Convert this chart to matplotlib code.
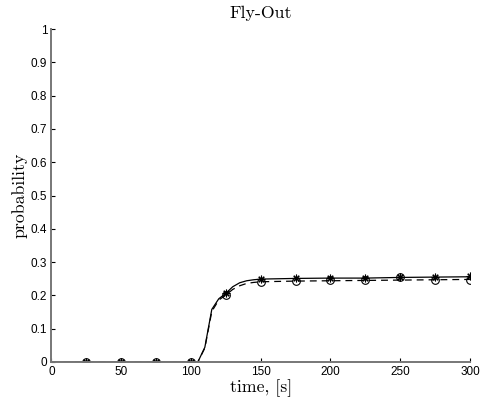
import matplotlib
matplotlib.use("Agg")
import matplotlib.pyplot as plt

# simulation output, sampled every 5 s
t = [0, 25, 50, 75, 100, 105, 110, 115, 120, 125, 130, 135, 140, 145, 150,
     175, 200, 225, 250, 275, 300]
p_sim = [0, 0, 0, 0, 0.001, 0.0, 0.044, 0.158, 0.19, 0.206, 0.226, 0.238,
         0.244, 0.247, 0.249, 0.251, 0.252, 0.252, 0.254, 0.255, 0.256]
p_model = [0, 0, 0, 0, 0.001, 0.0, 0.042, 0.152, 0.186, 0.201, 0.218, 0.229,
           0.236, 0.239, 0.241, 0.243, 0.244, 0.245, 0.246, 0.247, 0.248]

# marker positions (every 25 s)
t_mk = [25, 50, 75, 100, 125, 150, 175, 200, 225, 250, 275, 300]
p_sim_mk = [0, 0, 0, 0.001, 0.206, 0.248, 0.251, 0.252, 0.252, 0.255, 0.255, 0.257]
p_model_mk = [0, 0, 0, 0.001, 0.201, 0.241, 0.243, 0.245, 0.245, 0.254, 0.246, 0.247]

serif = "cmr10"
sans = "Liberation Sans"

fig = plt.figure(figsize=(4.8, 4.04), dpi=100)
ax = fig.add_axes([0.107, 0.104, 0.872, 0.824])

ax.plot(t, p_sim, color="black", lw=0.9)
ax.plot(t, p_model, color="black", lw=0.9, ls=(0, (5.5, 4)))
ax.plot(t_mk, p_sim_mk, ls="none", marker=(8, 2, 0), ms=5.5, mec="black", mew=0.8)
ax.plot(t_mk, p_model_mk, ls="none", marker="o", ms=5.5, mfc="none", mec="black", mew=0.8)

ax.set_xlim(0, 300)
ax.set_ylim(0, 1)
ax.set_xticks(range(0, 301, 50))
ax.set_yticks([i / 10 for i in range(11)])
ax.set_yticklabels(["0"] + ["0.%d" % i for i in range(1, 10)] + ["1"])

for s in ["top", "right"]:
    ax.spines[s].set_visible(False)
for s in ["left", "bottom"]:
    ax.spines[s].set_color("#777777")
    ax.spines[s].set_linewidth(1.4)
ax.tick_params(direction="in", length=3, width=0.8, color="black",
               labelsize=8.5, pad=3)
for lbl in ax.get_xticklabels() + ax.get_yticklabels():
    lbl.set_family(sans)

ax.set_title("Fly-Out", family=serif, fontsize=12.8, pad=8)
ax.set_xlabel("time, [s]", family=serif, fontsize=12.8, labelpad=1)
ax.set_ylabel("probability", family=serif, fontsize=12.8, labelpad=2)

fig.savefig("out.png", dpi=100)
